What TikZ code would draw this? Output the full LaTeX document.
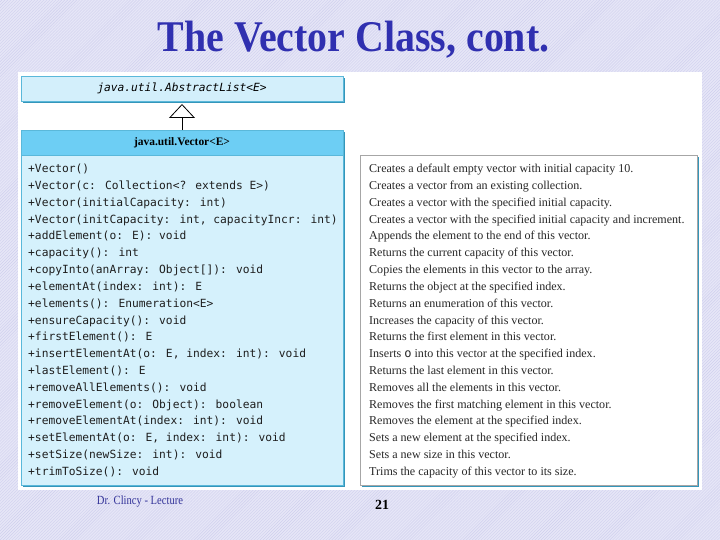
\documentclass[tikz,border=0pt]{standalone}
\usepackage{fontspec}
\setmainfont{Liberation Serif}
\newfontfamily\umlmono{DejaVu Sans Mono}
\usetikzlibrary{positioning,arrows.meta,shadows,patterns}

\definecolor{slidebg}{RGB}{230,230,247}
\definecolor{hatchcol}{RGB}{208,208,238}
\definecolor{titleblue}{RGB}{48,48,176}
\definecolor{abscol}{RGB}{211,239,251}
\definecolor{headcol}{RGB}{109,206,244}
\definecolor{methcol}{RGB}{213,241,252}
\definecolor{edgecol}{RGB}{90,184,218}
\definecolor{shadowteal}{RGB}{52,150,186}
\definecolor{footblue}{RGB}{51,51,153}

\tikzset{
  umlbox/.style={draw=edgecol, line width=0.5bp, outer sep=0pt, inner sep=0pt,
    drop shadow={shadow xshift=1.8bp, shadow yshift=-1.8bp, fill=shadowteal, opacity=1}},
  meth/.style={font=\umlmono\fontsize{11.3}{13}\selectfont, text={rgb,255:red,30;green,30;blue,30}, inner sep=0pt, anchor=base west},
  desc/.style={font=\fontsize{12.1}{14}\selectfont, text={rgb,255:red,40;green,40;blue,40}, inner sep=0pt, anchor=base west}
}

\begin{document}
\begin{tikzpicture}[x=1bp, y=-1bp]
  % slide background
  \fill[slidebg] (0,0) rectangle (720,540);
  \fill[pattern=north east lines, pattern color=hatchcol] (0,0) rectangle (720,540);
  \useasboundingbox (0,0) rectangle (720,540);

  % title
  \node[font=\bfseries\fontsize{44}{50}\selectfont, text=titleblue, anchor=base] (title) at (353.5,52)
    {\scalebox{0.91}[1]{The Vector Class, cont.}};

  % white picture area
  \fill[white] (18,72) rectangle (702,490);

  % classes
  \node[umlbox, fill=abscol, minimum width=322bp, minimum height=25bp, anchor=north west,
    font=\umlmono\itshape\fontsize{11.3}{13}\selectfont] (abstract) at (21,76) {java.util.AbstractList<E>};
  \node[umlbox, fill=headcol, minimum width=322bp, minimum height=25bp, anchor=north west,
    font=\bfseries\fontsize{11.5}{13}\selectfont] (vectorhead) at (21,130) {java.util.Vector<E>};
  \node[umlbox, fill=methcol, minimum width=322bp, minimum height=330bp, below=0pt of vectorhead] (methods) {};
  \node[umlbox, fill=white, draw=gray!70, minimum width=337bp, minimum height=330bp, anchor=north west] (descr) at (360,155) {};

  % inheritance
  \draw[-{Triangle[open, width=26bp, length=14bp]}, line width=0.8bp] (vectorhead.north) -- ([yshift=-3bp]abstract.south);

  % rows
  \foreach \m/\d [count=\i] in {
    +Vector()/Creates a default empty vector with initial capacity 10.,
    +Vector(c: Collection<? extends E>)/Creates a vector from an existing collection.,
    +Vector(initialCapacity: int)/Creates a vector with the specified initial capacity.,
    {+Vector(initCapacity: int, capacityIncr: int)}/Creates a vector with the specified initial capacity and increment.,
    +addElement(o: E): void/Appends the element to the end of this vector.,
    +capacity(): int/Returns the current capacity of this vector.,
    +copyInto(anArray: Object[]): void/Copies the elements in this vector to the array.,
    +elementAt(index: int): E/Returns the object at the specified index.,
    +elements(): Enumeration<E>/Returns an enumeration of this vector.,
    +ensureCapacity(): void/Increases the capacity of this vector.,
    +firstElement(): E/Returns the first element in this vector.,
    {+insertElementAt(o: E, index: int): void}/Inserts {\umlmono o} into this vector at the specified index.,
    +lastElement(): E/Returns the last element in this vector.,
    +removeAllElements(): void/Removes all the elements in this vector.,
    +removeElement(o: Object): boolean/Removes the first matching element in this vector.,
    +removeElementAt(index: int): void/Removes the element at the specified index.,
    {+setElementAt(o: E, index: int): void}/Sets a new element at the specified index.,
    +setSize(newSize: int): void/Sets a new size in this vector.,
    +trimToSize(): void/Trims the capacity of this vector to its size.}
  {
    \node[meth] (m\i) at (28,{155.7+16.83*\i}) {\m};
    \node[desc] (d\i) at (369,{155.7+16.83*\i}) {\d};
  }

  % footer
  \node[font=\fontsize{12.5}{14}\selectfont, text=footblue, anchor=base] (author) at (140,504)
    {\scalebox{0.85}[1]{Dr. Clincy - Lecture}};
  \node[font=\bfseries\fontsize{14}{16}\selectfont, anchor=base] (page) at (382,509) {21};
\end{tikzpicture}
\end{document}
